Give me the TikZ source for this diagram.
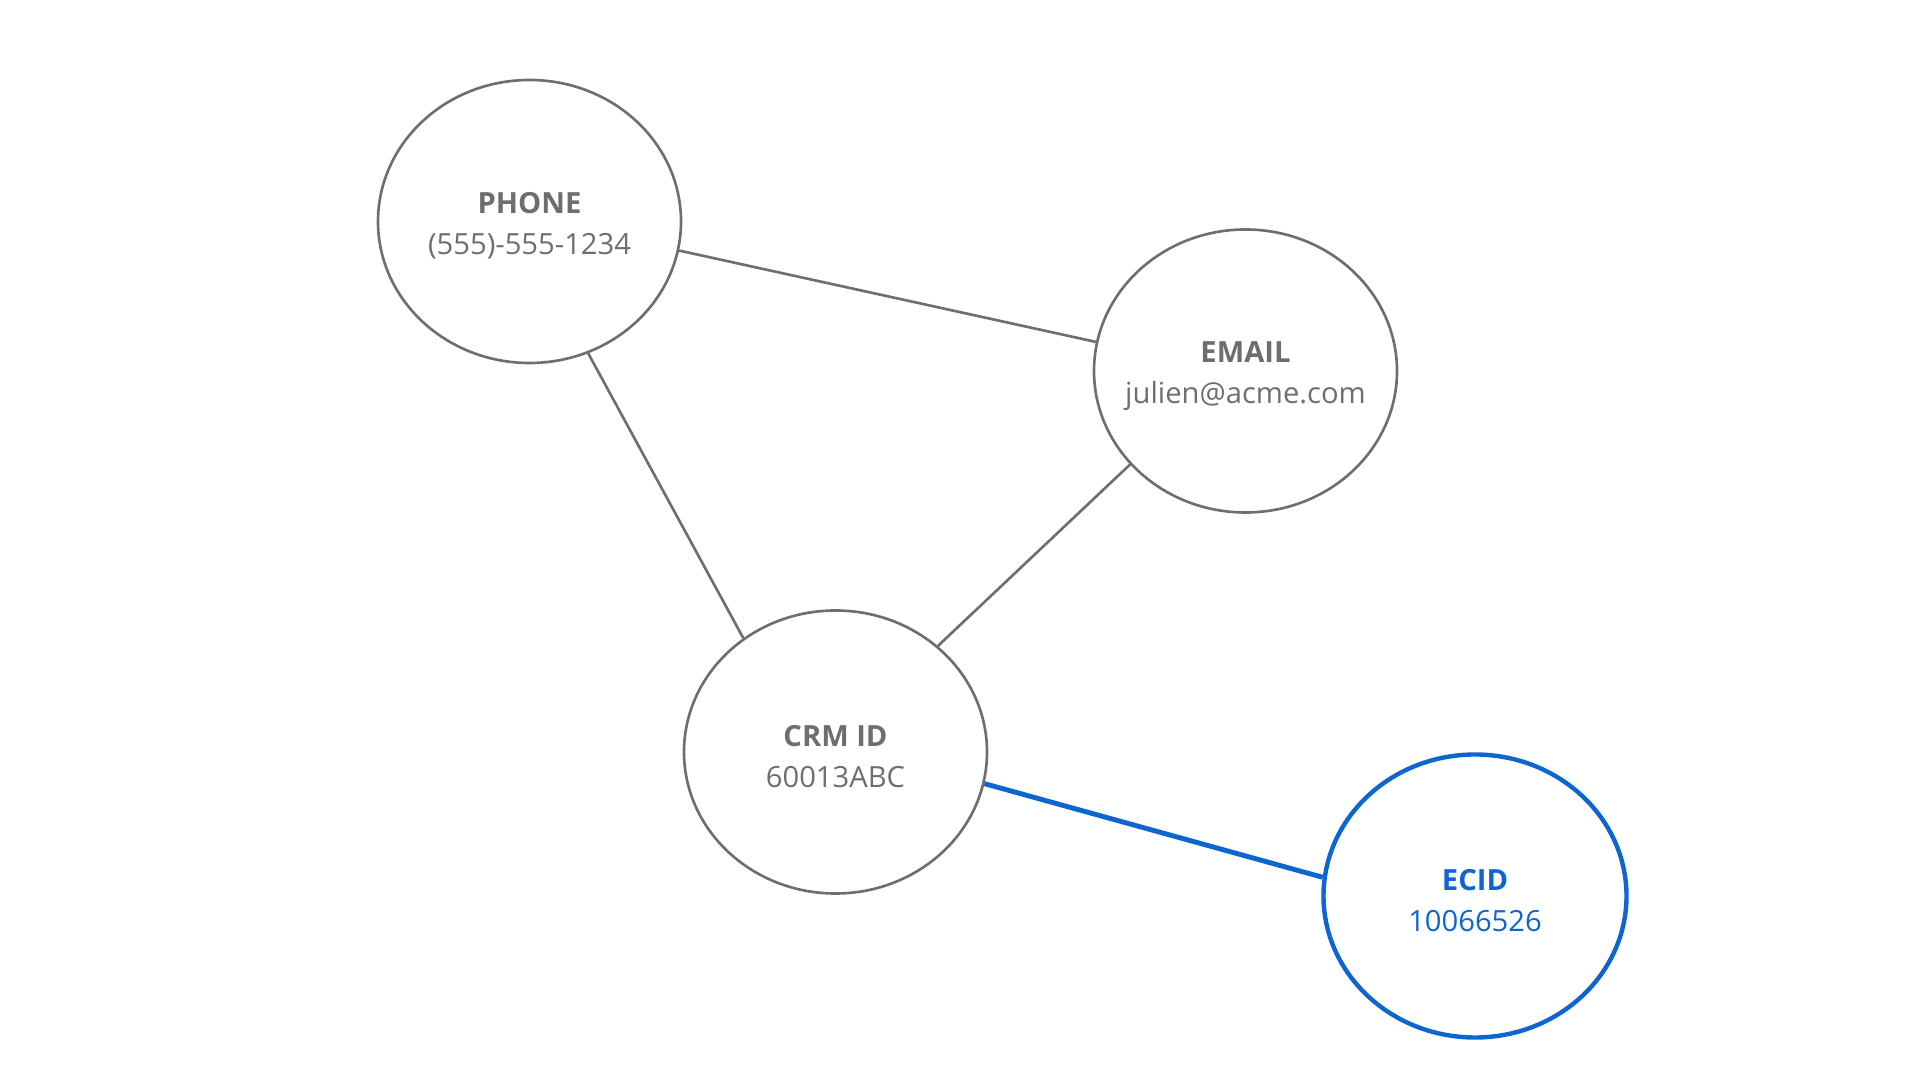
\documentclass[tikz,border=0pt]{standalone}
\usepackage{fontspec}
\setmainfont{Open Sans}
\usepackage{tikz}
\usetikzlibrary{shapes.geometric}
\definecolor{idgray}{HTML}{6E6E6E}
\definecolor{idblue}{HTML}{0D66D0}
\newcommand{\idlabel}[2]{\makebox[0pt]{\rule{0pt}{8.6pt}\textbf{#1}}\\\makebox[0pt]{#2}}
\tikzset{
  identity/.style={
    ellipse, draw=idgray, line width=0.75pt, text=idgray,
    minimum width=3.03cm, minimum height=2.83cm, inner sep=0pt,
    align=center, font=\fontsize{8.3}{11.7}\selectfont},
  primary/.style={identity, draw=idblue, text=idblue, line width=1.25pt},
  link/.style={draw=idgray, line width=0.75pt},
  bluelink/.style={draw=idblue, line width=1.4pt}
}

\begin{document}
\begin{tikzpicture}
    \useasboundingbox (0,0) rectangle (19.2,10.8);
    % identity nodes
    \node[identity] (phone) at (5.295,8.585) {\idlabel{PHONE}{(555)-555-1234}};
    \node[identity] (email) at (12.455,7.09) {\idlabel{EMAIL}{julien@acme.com}};
    \node[identity] (crm) at (8.355,3.28) {\idlabel{CRM ID}{60013ABC}};
    \node[primary] (ecid) at (14.75,1.84) {\idlabel{ECID}{10066526}};
    % links
    \draw[link] (phone.-11) -- (email.169);
    \draw[link] (phone.-66) -- (crm.129);
    \draw[link] (email.219) -- (crm.46);
    \draw[bluelink] (crm.-12.6) -- (ecid.173.6);
\end{tikzpicture}
\end{document}
